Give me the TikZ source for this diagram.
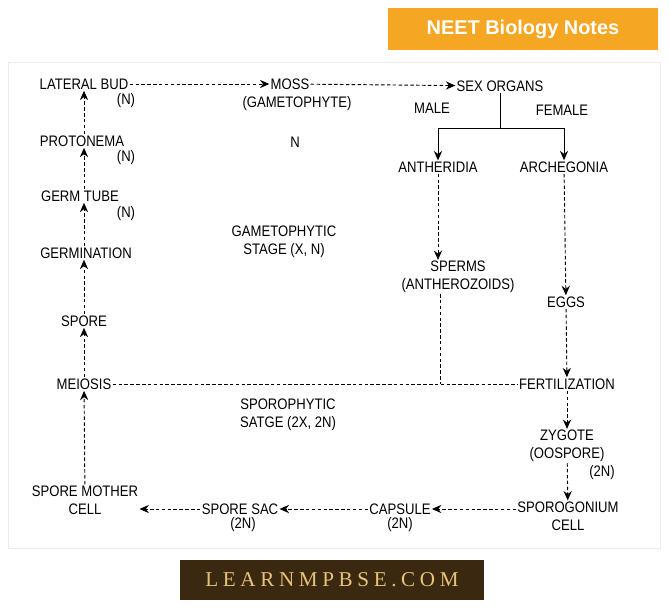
\documentclass[tikz,border=0pt]{standalone}
\usepackage{fontspec}
\setmainfont{Liberation Sans}
\usepackage{tikz}
\usetikzlibrary{arrows.meta,positioning}
\definecolor{neetorange}{RGB}{245,166,35}
\definecolor{learnbrown}{RGB}{58,40,16}
\definecolor{learngold}{RGB}{232,196,120}
\newfontfamily\narrowfont[FakeStretch=0.86]{Liberation Sans}
\newfontfamily\wideserif[LetterSpace=22]{Liberation Serif}

\begin{document}
\begin{tikzpicture}[x=0.03cm,y=-0.03cm,
    lbl/.style={inner sep=1pt,font=\narrowfont\fontsize{13}{15}\selectfont},
    dotarr/.style={densely dashed,-{Stealth[length=8pt,width=7pt]},thick},
    solarr/.style={-{Stealth[length=8pt,width=7pt]},thick}]
    \useasboundingbox (0,0) rectangle (670,611);
    \draw[gray!15] (8,62) rectangle (660,548);

    % Banners
    \fill[neetorange] (388,8) rectangle (658,50);
    \node[text=white,font=\bfseries\fontsize{17}{19}\selectfont] (neet) at (523,29) {NEET Biology Notes};
    \fill[learnbrown] (180,560) rectangle (484,600);
    \node[text=learngold,font=\wideserif\fontsize{18}{20}\selectfont] (learn) at (332,580) {LEARNMPBSE.COM};

    % Gametophytic side
    \node[lbl] (bud) at (84,84) {LATERAL BUD};
    \node[lbl] at (126,101) {(N)};
    \node[lbl] (moss) at (290,84) {MOSS};
    \node[lbl] at (297,104) {(GAMETOPHYTE)};
    \node[lbl] (sex) at (500,86) {SEX ORGANS};
    \node[lbl] at (432,108) {MALE};
    \node[lbl] at (562,110) {FEMALE};
    \node[lbl] at (295,142) {N};
    \node[lbl] (proto) at (82,141) {PROTONEMA};
    \node[lbl] at (126,158) {(N)};
    \node[lbl] (germ) at (80,196) {GERM TUBE};
    \node[lbl] at (126,214) {(N)};
    \node[lbl] (germin) at (86,253) {GERMINATION};
    \node[lbl,align=center] at (284,242) {GAMETOPHYTIC\\STAGE (X, N)};
    \node[lbl] (anth) at (438,167) {ANTHERIDIA};
    \node[lbl] (arch) at (564,167) {ARCHEGONIA};
    \node[lbl,align=center] (sperm) at (458,277) {SPERMS\\(ANTHEROZOIDS)};
    \node[lbl] (eggs) at (566,302) {EGGS};
    \node[lbl] (spore) at (84,321) {SPORE};

    % Sporophytic side
    \node[lbl] (meio) at (84,384) {MEIOSIS};
    \node[lbl] (fert) at (567,384) {FERTILIZATION};
    \node[lbl,align=center] at (288,415) {SPOROPHYTIC\\SATGE (2X, 2N)};
    \node[lbl,align=center] (zyg) at (567,446) {ZYGOTE\\(OOSPORE)};
    \node[lbl] at (602,473) {(2N)};
    \node[lbl,align=center] (smc) at (85,500) {SPORE MOTHER\\CELL};
    \node[lbl] (sac) at (240,509) {SPORE SAC};
    \node[lbl] at (243,525) {(2N)};
    \node[lbl] (caps) at (400,509) {CAPSULE};
    \node[lbl] at (400,525) {(2N)};
    \node[lbl,align=center] (sporog) at (568,516) {SPOROGONIUM\\CELL};

    % Connectors
    \draw[dotarr] (bud) -- (moss);
    \draw[dotarr] (moss) -- (sex);
    \coordinate (fork) at (500,128);
    \draw[thick] (sex.south -| fork) -- (fork);
    \draw[solarr] (fork) -| (anth.north);
    \draw[solarr] (fork) -| (arch.north);
    \draw[dotarr] (anth) -- (anth |- sperm.north);
    \draw[dotarr] (arch) -- (eggs);
    \coordinate (join) at (440,384);
    \draw[densely dashed,thick] (sperm.south -| join) -- (join);
    \draw[densely dashed,thick] (meio) -- (fert);
    \draw[dotarr] (eggs) -- (fert);
    \draw[dotarr] (fert) -- (zyg);
    \draw[dotarr] (zyg) -- (sporog);
    \draw[dotarr] (sporog.west |- caps) -- (caps);
    \draw[dotarr] (caps) -- (sac);
    \draw[dotarr] (sac) -- (smc.east |- sac);
    \draw[dotarr] (smc) -- (meio);
    \draw[dotarr] (meio) -- (spore);
    \draw[dotarr] (spore) -- (spore |- germin.south);
    \draw[dotarr] (spore |- germin.north) -- (spore |- germ.south);
    \draw[dotarr] (spore |- germ.north) -- (spore |- proto.south);
    \draw[dotarr] (spore |- proto.north) -- (spore |- bud.south);
\end{tikzpicture}
\end{document}
